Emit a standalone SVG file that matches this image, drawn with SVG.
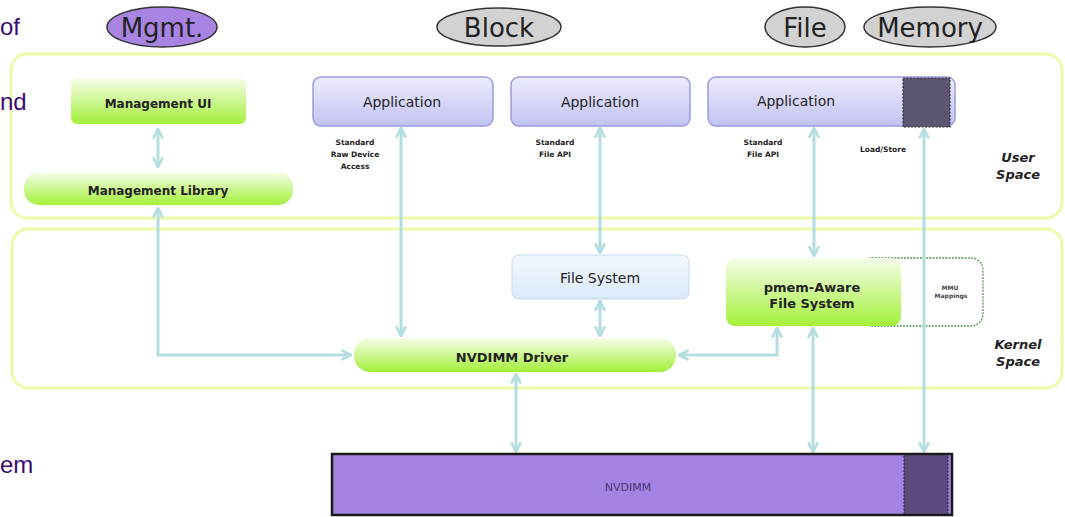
<svg xmlns="http://www.w3.org/2000/svg" width="1065" height="517" viewBox="0 0 1065 517">
<style>
.frame{fill:none;stroke:#eefaa8;stroke-width:3}
.conn{fill:none;stroke:#b4dde0;stroke-width:3}
.lbl{font-family:"DejaVu Sans",Verdana,sans-serif;fill:#222}
.green{fill:url(#gGreen)}
.app{fill:url(#gApp);stroke:#9b9be0;stroke-width:1.5}
.bold{font-weight:bold}
.small{font-size:7.5px;font-weight:bold;text-anchor:middle;font-family:"DejaVu Sans",Verdana,sans-serif;fill:#222}
.space{font-size:13px;font-weight:bold;font-style:italic;text-anchor:middle;font-family:"DejaVu Sans",Verdana,sans-serif;fill:#222}
.side{font-family:"Liberation Sans",Arial,sans-serif;font-size:24px;fill:#3d0a6e}
.oval{stroke:#333;stroke-width:1.5}
.ovt{font-family:"DejaVu Sans",sans-serif;font-size:26px;fill:#222;text-anchor:middle}
</style>
<defs>
<linearGradient id="gGreen" x1="0" y1="0" x2="0" y2="1">
<stop offset="0" stop-color="#f6fdea"/>
<stop offset="1" stop-color="#a4f03a"/>
</linearGradient>
<linearGradient id="gApp" x1="0" y1="0" x2="0" y2="1">
<stop offset="0" stop-color="#ececfd"/>
<stop offset="1" stop-color="#c2c2f2"/>
</linearGradient>
<linearGradient id="gFs" x1="0" y1="0" x2="0" y2="1">
<stop offset="0" stop-color="#f3f8fe"/>
<stop offset="1" stop-color="#dbe9f9"/>
</linearGradient>
<marker id="ah" viewBox="0 0 10 10" refX="9" refY="5" markerWidth="4" markerHeight="4" orient="auto-start-reverse" markerUnits="strokeWidth">
<path d="M1,1 L9,5 L1,9" fill="none" stroke="#b4dde0" stroke-width="2.2"/>
</marker>
</defs>

<g id="ovals">
<g id="oval-mgmt"><ellipse class="oval" cx="162" cy="27" rx="55" ry="20" fill="#a784e2"/><text class="ovt" x="162" y="37">Mgmt.</text></g>
<g id="oval-block"><ellipse class="oval" cx="499" cy="27" rx="62" ry="19" fill="#d2d2d2"/><text class="ovt" x="499" y="37">Block</text></g>
<g id="oval-file"><ellipse class="oval" cx="805" cy="27" rx="40" ry="20" fill="#d2d2d2"/><text class="ovt" x="805" y="37">File</text></g>
<g id="oval-memory"><ellipse class="oval" cx="930" cy="27" rx="66" ry="20" fill="#d2d2d2"/><text class="ovt" x="930" y="37">Memory</text></g>
</g>

<g id="user-space">
<rect class="frame" x="11" y="54" width="1051" height="164" rx="16"/>
<text class="space" x="1018" y="162">User</text>
<text class="space" x="1018" y="179">Space</text>
</g>
<g id="kernel-space">
<rect class="frame" x="12" y="229" width="1050" height="159" rx="16"/>
<text class="space" x="1018" y="349">Kernel</text>
<text class="space" x="1018" y="366">Space</text>
</g>

<g id="side-text">
<text class="side" x="0" y="35">of</text>
<text class="side" x="0" y="110">nd</text>
<text class="side" x="0" y="473">em</text>
</g>

<g id="mmu-mappings">
<rect x="860" y="258" width="123" height="68" rx="12" fill="none" stroke="#4c9c52" stroke-width="1.3" stroke-dasharray="2,1.2"/>
<text x="950" y="290" font-family="DejaVu Sans,Verdana,sans-serif" font-size="6" font-weight="bold" text-anchor="middle" fill="#444">MMU</text>
<text x="951" y="298" font-family="DejaVu Sans,Verdana,sans-serif" font-size="6" font-weight="bold" text-anchor="middle" fill="#444">Mappings</text>
</g>

<g id="connectors">
<line class="conn" x1="158" y1="129" x2="158" y2="167" marker-start="url(#ah)" marker-end="url(#ah)"/>
<polyline class="conn" points="158,208 158,355 351,355" marker-start="url(#ah)" marker-end="url(#ah)"/>
<line class="conn" x1="401" y1="128" x2="401" y2="336" marker-start="url(#ah)" marker-end="url(#ah)"/>
<line class="conn" x1="600" y1="128" x2="600" y2="253" marker-start="url(#ah)" marker-end="url(#ah)"/>
<line class="conn" x1="600" y1="301" x2="600" y2="336" marker-start="url(#ah)" marker-end="url(#ah)"/>
<polyline class="conn" points="679,355 777,355 777,328" marker-start="url(#ah)" marker-end="url(#ah)"/>
<line class="conn" x1="814" y1="128" x2="814" y2="256" marker-start="url(#ah)" marker-end="url(#ah)"/>
<line class="conn" x1="813" y1="328" x2="813" y2="452" marker-start="url(#ah)" marker-end="url(#ah)"/>
<line class="conn" x1="924" y1="129" x2="924" y2="452" marker-start="url(#ah)" marker-end="url(#ah)"/>
<line class="conn" x1="516" y1="374" x2="516" y2="452" marker-start="url(#ah)" marker-end="url(#ah)"/>
</g>

<g id="management-ui">
<rect class="green" x="71" y="78" width="175" height="46" rx="6"/>
<text class="lbl bold" x="158" y="108" font-size="12" text-anchor="middle">Management UI</text>
</g>
<g id="management-library">
<rect class="green" x="24" y="172" width="269" height="33" rx="15"/>
<text class="lbl bold" x="158" y="195" font-size="12" text-anchor="middle">Management Library</text>
</g>

<g id="app1">
<rect class="app" x="313" y="77" width="180" height="49" rx="8"/>
<text class="lbl" x="402" y="107" font-size="14" text-anchor="middle">Application</text>
</g>
<g id="app2">
<rect class="app" x="511" y="77" width="179" height="49" rx="8"/>
<text class="lbl" x="600" y="107" font-size="14" text-anchor="middle">Application</text>
</g>
<g id="app3">
<rect class="app" x="708" y="77" width="247" height="49" rx="8"/>
<rect x="903" y="78" width="47" height="49" fill="#5c5672" stroke="#333" stroke-width="1.2" stroke-dasharray="2,1.5"/>
<text class="lbl" x="796" y="106" font-size="14" text-anchor="middle">Application</text>
</g>

<g id="labels">
<text class="small" x="355" y="145">Standard</text>
<text class="small" x="355" y="157">Raw Device</text>
<text class="small" x="355" y="169">Access</text>
<text class="small" x="555" y="145">Standard</text>
<text class="small" x="555" y="157">File API</text>
<text class="small" x="763" y="145">Standard</text>
<text class="small" x="763" y="157">File API</text>
<text class="small" x="883" y="152">Load/Store</text>
</g>

<g id="file-system">
<rect x="512" y="255" width="177" height="44" rx="7" fill="url(#gFs)" stroke="#c8d8ee" stroke-width="1"/>
<text class="lbl" x="600" y="283" font-size="14" text-anchor="middle">File System</text>
</g>

<g id="pmem-fs">
<rect class="green" x="726" y="258" width="175" height="68" rx="9"/>
<text class="lbl bold" x="812" y="292" font-size="13" text-anchor="middle">pmem-Aware</text>
<text class="lbl bold" x="812" y="308" font-size="13" text-anchor="middle">File System</text>
</g>

<g id="nvdimm-driver">
<rect class="green" x="354" y="338" width="322" height="34" rx="16"/>
<text class="lbl bold" x="512" y="362" font-size="13" text-anchor="middle">NVDIMM Driver</text>
</g>

<g id="nvdimm">
<rect x="332" y="454" width="620" height="61" fill="#a583e3" stroke="#1a1a1a" stroke-width="2.5"/>
<rect x="904" y="455" width="44" height="59" fill="#5e4a7e" stroke="#222" stroke-width="1" stroke-dasharray="2,1.5"/>
<text x="628" y="491" font-family="DejaVu Sans,Verdana,sans-serif" font-size="11" text-anchor="middle" fill="#4a3a70">NVDIMM</text>
</g>
</svg>
